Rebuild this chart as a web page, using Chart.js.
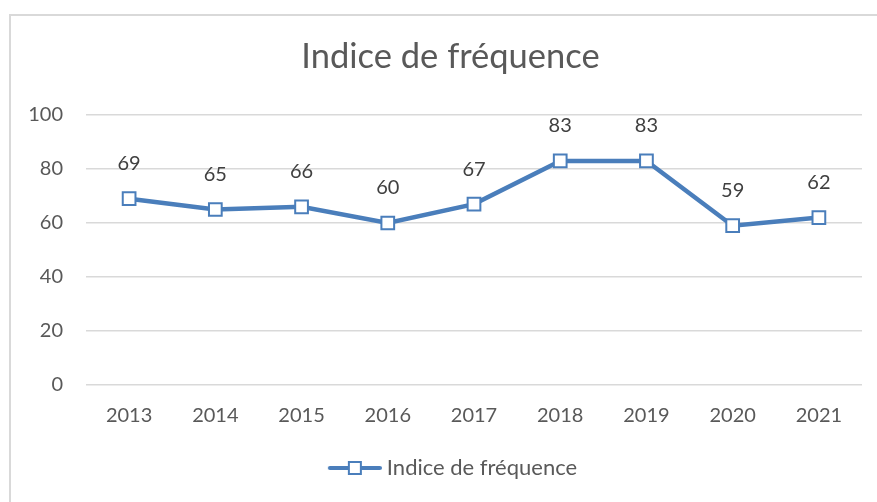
<!DOCTYPE html>
<html><head><meta charset="utf-8">
<script src="https://cdn.jsdelivr.net/npm/chart.js@4"></script>
<style>
html,body{margin:0;padding:0;background:#fff;overflow:hidden}
#wrap{position:absolute;left:0;top:0;width:877px;height:502px}
#frame{position:absolute;left:9px;top:14px;width:900px;height:520px;border:2px solid #d9d9d9;box-sizing:border-box}
canvas{position:absolute;left:0;top:0}
</style></head>
<body>
<div id="wrap"><div id="frame"></div><canvas id="c" width="877" height="502"></canvas></div>
<script>
const categories = ['2013','2014','2015','2016','2017','2018','2019','2020','2021'];
const seriesName = 'Indice de fréquence';
const values = [69, 65, 66, 60, 67, 83, 83, 59, 62];
const yTicks = [0, 20, 40, 60, 80, 100];
const chartTitle = 'Indice de fréquence';

const BLUE = '#4a7ebb';
const FONT = 'Lato, "Open Sans", sans-serif';

// legend symbol: line with square marker
const sym = document.createElement('canvas');
sym.width = 64; sym.height = 16;
(function(){
  const g = sym.getContext('2d');
  g.strokeStyle = BLUE; g.lineWidth = 4; g.lineCap = 'round';
  g.beginPath(); g.moveTo(12, 8); g.lineTo(62, 8); g.stroke();
  g.fillStyle = '#fff'; g.lineWidth = 2;
  g.fillRect(31, 2, 12, 12); g.strokeRect(31, 2, 12, 12);
})();

const dataLabels = {
  id: 'dataLabels',
  afterDatasetsDraw(chart) {
    const ctx = chart.ctx;
    const meta = chart.getDatasetMeta(0);
    ctx.save();
    ctx.font = '20px ' + FONT;
    ctx.fillStyle = '#404040';
    ctx.textAlign = 'center';
    ctx.textBaseline = 'middle';
    meta.data.forEach((pt, i) => {
      ctx.fillText(String(values[i]), pt.x, pt.y - 35);
    });
    ctx.restore();
  }
};

new Chart(document.getElementById('c'), {
  type: 'line',
  data: {
    labels: categories,
    datasets: [{
      label: seriesName,
      data: values,
      borderColor: BLUE,
      borderWidth: 4.5,
      backgroundColor: '#ffffff',
      pointStyle: 'rect',
      pointRadius: 9,
      pointBorderWidth: 2,
      pointBorderColor: BLUE,
      pointBackgroundColor: '#ffffff',
      tension: 0
    }]
  },
  options: {
    responsive: false,
    animation: false,
    layout: { padding: { left: 24, right: 0, top: 0, bottom: 13 } },
    plugins: {
      title: {
        display: true, text: chartTitle, color: '#595959',
        font: { family: FONT, size: 34.5, weight: 'normal' },
        padding: { top: 36, bottom: 37.6 }
      },
      legend: {
        display: true, position: 'bottom',
        labels: {
          usePointStyle: true, pointStyle: sym, pointStyleWidth: 52,
          color: '#595959', font: { family: FONT, size: 22 },
          padding: 10,
          generateLabels(chart) {
            return [{ text: seriesName, pointStyle: sym, fillStyle: BLUE, strokeStyle: BLUE, lineWidth: 0, datasetIndex: 0, fontColor: '#595959' }];
          }
        }
      },
      tooltip: { enabled: false }
    },
    scales: {
      y: {
        min: 0, max: 100,
        afterBuildTicks(scale) { scale.ticks = yTicks.map(v => ({ value: v })); },
        afterFit(scale) { scale.width = 62; },
        border: { display: false },
        grid: { color: '#d9d9d9', lineWidth: 1.5, drawTicks: false },
        ticks: { color: '#595959', font: { family: FONT, size: 20 }, padding: 23 }
      },
      yRight: {
        position: 'right', min: 0, max: 100,
        afterFit(scale) { scale.width = 15; },
        border: { display: false },
        grid: { display: false, drawTicks: false },
        ticks: { display: false }
      },
      x: {
        offset: true,
        border: { display: false },
        grid: { display: false, drawTicks: false },
        ticks: { color: '#595959', font: { family: FONT, size: 20 }, padding: 19 }
      }
    }
  },
  plugins: [dataLabels]
});
</script>
</body></html>
